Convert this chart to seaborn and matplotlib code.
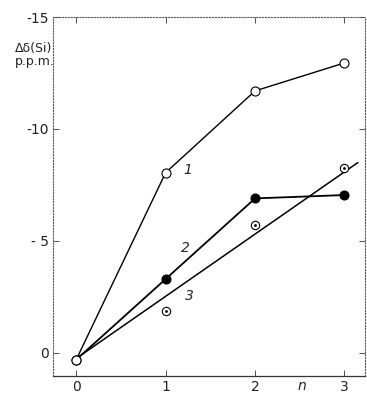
import matplotlib
matplotlib.use("Agg")
import matplotlib.pyplot as plt
import numpy as np
import seaborn as sns
import pandas as pd

# ===== Données =====
n_vals = [0, 1, 2, 3]
serie_1 = [0.3, -8.05, -11.7, -12.95]   # cercles vides
serie_2 = [0.3, -3.3, -6.9, -7.05]      # points pleins
serie_3 = [0.3, -1.85, -5.7, -8.25]     # cercles pointés
droite_3_x = [0, 3.15]
droite_3_y = [0.25, -8.5]

y_ticks = [0, -5, -10, -15]
x_ticks = [0, 1, 2, 3]

sns.set_style("ticks")
plt.rcParams['font.family'] = ['DejaVu Sans']
plt.rcParams['axes.unicode_minus'] = False

df1 = pd.DataFrame({'n': n_vals, 'd': serie_1})
df2 = pd.DataFrame({'n': n_vals, 'd': serie_2})
df3 = pd.DataFrame({'n': n_vals[1:], 'd': serie_3[1:]})
dl3 = pd.DataFrame({'n': droite_3_x, 'd': droite_3_y})

fig = plt.figure(figsize=(3.67, 3.93), dpi=100)
ax = fig.add_axes([0.1444, 0.0433, 0.8502, 0.9134])

# courbe 3 : droite + points
sns.lineplot(data=dl3, x='n', y='d', color='black', lw=1.1, ax=ax)
sns.scatterplot(data=df3, x='n', y='d', marker='o', s=36, facecolor='white',
                edgecolor='black', linewidth=0.8, ax=ax, zorder=4)
sns.scatterplot(data=df3, x='n', y='d', marker='o', s=4, color='black',
                linewidth=0, ax=ax, zorder=5)

# courbe 2
sns.lineplot(data=df2, x='n', y='d', color='black', lw=1.3, marker='o',
             markersize=6.5, markerfacecolor='black', markeredgecolor='black', ax=ax)
# courbe 1
sns.lineplot(data=df1, x='n', y='d', color='black', lw=1.0, marker='o',
             markersize=6.5, markerfacecolor='white', markeredgecolor='black',
             markeredgewidth=0.8, ax=ax)

ax.set_xlim(-0.26, 3.23)
ax.set_ylim(1.03, -15.0)
ax.set_xticks(x_ticks)
ax.set_xticklabels([str(v) for v in x_ticks])
ax.set_yticks(y_ticks)
ax.set_yticklabels(['0', '- 5', '-10', '-15'])
ax.tick_params(direction='in', length=4, width=0.6, colors='#333333',
               labelsize=10, labelcolor='#222222', pad=3,
               top=True, right=True)
ax.set_xlabel('')
ax.set_ylabel('')

for side in ['left', 'top', 'right']:
    ax.spines[side].set_linestyle(':')
    ax.spines[side].set_color('#555555')
    ax.spines[side].set_linewidth(0.8)
ax.spines['bottom'].set_color('#333333')
ax.spines['bottom'].set_linewidth(0.9)

# étiquettes des courbes
ax.text(1.2, -8.0, '1', fontsize=10, style='italic')
ax.text(1.17, -4.5, '2', fontsize=10, style='italic')
ax.text(1.22, -2.35, '3', fontsize=10, style='italic')
ax.text(2.47, 1.15, 'n', fontsize=10, style='italic', va='top')

fig.text(0.04, 0.86, 'Δδ(Si)\np.p.m.', fontsize=9, linespacing=1.0,
         color='#222222', va='center')

plt.savefig("out.png", dpi=100)
